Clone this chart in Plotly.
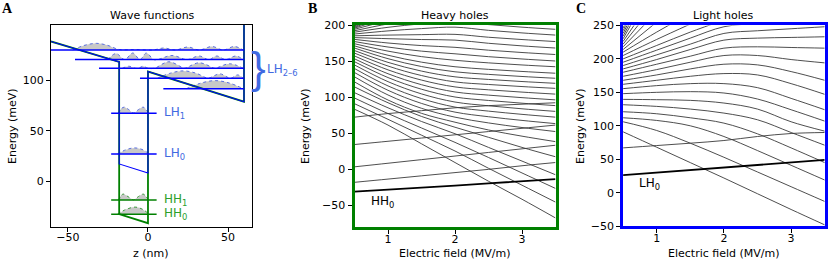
import plotly.graph_objects as go

W, H = 831, 260

# ---------------- Panel A : wave functions ----------------
pot_z = [-60.6, -18, -18, 0, 0, 60, 60]
pot_hh = [139, 118.6, -33, -42, 109, 79, 160]
pot_lh = [139, 118.6, 17, 8, 109, 79, 160]

lev_names = ["HH0", "HH1", "LH0", "LH1", "LH2", "LH3", "LH4", "LH5", "LH6"]
lev_E = [-33, -19, 27, 67.6, 130.5, 121, 112.3, 102.4, 92]
lev_z0 = [-23, -23, -23, -23, -60.6, -45.6, -30.6, -5, 9.6]
lev_z1 = [5.4, 5.4, 5.4, 5.4, 60, 60, 60, 60, 60]

wf_z = [
    [-19, -14, -8, -3, 0.5],
    [-18.5, -17, -15.5, -12.5, -9, -6, -3, -1.5, 0.5],
    [-19, -14, -8.5, -3, 0.5],
    [-18.5, -17, -14.8, -12, -9, -6, -3, -1.5, 0.5],
    [-47, -40, -32, -25, -18, -8, 3, 10, 17, 25, 32, 40, 47, 54, 59.5],
    [-25, -20, -14.5, -9.5, -5, -1, 3.5, 6, 15, 23, 25, 32, 38, 43, 48.5, 55, 59.5],
    [-16, -12, -8, -6, -3, 0, 4, 13, 22, 23, 32, 41, 42, 51, 59.5],
    [6, 14, 22, 30, 37, 38, 45, 51, 52, 56, 59.5],
    [24, 33, 42, 51, 59.5],
]
wf_a = [
    [0, 4.5, 7, 4.5, 0],
    [0, 4, 6, 3.5, 0.3, 3.5, 6, 4, 0],
    [0, 4, 6, 4, 0],
    [0, 4, 6, 3.5, 0.3, 3.5, 6, 4, 0],
    [0, 4.5, 6.6, 4.5, 0.5, 0.5, 0, 2, 0, 3, 0, 3.5, 0, 3.5, 0],
    [0, 6, 0, 6.5, 0, 6.5, 0, 0, 4, 0.3, 0, 3.5, 0, 3.5, 0, 3.5, 0],
    [0, 2, 0, 0, 2, 0, 0, 6.5, 0.3, 0, 5.5, 0.3, 0, 4.5, 0],
    [0, 5, 7.3, 5, 0, 0, 4.3, 0, 0, 3.3, 0],
    [0, 5.5, 8, 5.5, 0],
]

# ---------------- Panel B : heavy holes ----------------
B_x = [0.5, 1.0, 1.5, 2.0, 2.5, 3.0, 3.5]
B_HH0 = [-31.5, -29, -26, -23, -20, -17, -14]
B_bound = [
    [-18.5, -14, -9.5, -5, -0.5, 4.5, 9],
    [3, 8, 13, 18, 23, 28, 33],
    [34, 38.5, 43, 47.5, 52, 56.5, 61],
    [72, 77, 81, 85, 88, 90, 92],
]
B_cont = [
    [83, 61, 35, 9, -17, -42, -68],
    [90.7, 69, 47, 25, 1, -22.5, -46],
    [98.6, 77, 57, 37, 16, -5.5, -27],
    [106, 85, 66, 49, 30, 11, -8],
    [114, 92, 73, 58, 44, 30, 17],
    [121, 95.8, 77.3, 65, 54.2, 45.6, 38],
    [128, 102.8, 84.3, 72, 64, 57.6, 52],
    [134, 109.3, 91.1, 79, 72.6, 67.5, 63],
    [139.5, 115.4, 97.8, 86, 80.4, 75.9, 72],
    [144.5, 121.3, 104.3, 93, 87.8, 83.6, 80],
    [149, 127, 110.8, 100, 95.2, 91.4, 88],
    [153, 132.3, 117.1, 107, 102.6, 99.1, 96],
    [157, 137.7, 123.5, 114, 110, 106.8, 104],
    [161, 143, 129.8, 121, 117.4, 114.5, 112],
    [164.5, 148.1, 136, 128, 124.4, 121.5, 119],
    [168, 153.2, 142.3, 135, 131.4, 128.5, 126],
    [171, 158, 148.4, 142, 138.4, 135.5, 133],
    [174, 163.7, 156.1, 151, 147.4, 144.5, 142],
    [177, 169.4, 163.7, 160, 156, 152.8, 150],
    [180, 175, 171.4, 169, 165, 161.8, 159],
    [182.5, 181, 179.8, 179, 174.6, 171, 168],
    [185, 186, 186.6, 187, 183, 179.8, 177],
    [187.5, 191.8, 195, 197, 192.6, 189, 186],
    [190, 196.8, 201.7, 205, 200.6, 197, 194],
    [192, 201.5, 208.4, 213, 208.6, 205, 202],
    [194, 206, 215, 221],
    [195.5, 210, 221, 229],
    [196.5, 214, 226],
    [197.5, 218, 233],
    [198.5, 223, 240],
    [199.5, 230],
]

# ---------------- Panel C : light holes ----------------
C_x = [0.5, 1.0, 1.5, 2.0, 2.5, 3.0, 3.5]
C_LH0 = [26.4, 30.2, 34, 37.7, 41.5, 45.2, 49]
C_bound = [
    [67, 70.5, 74, 78, 84, 88.5, 90],
]
C_cont = [
    [91, 68, 45, 22, -1.5, -25, -48],
    [106, 93, 74, 53, 31, 9, -13],
    [112, 108, 100, 84, 63, 41, 19],
    [121, 118, 112, 104, 88, 67, 45],
    [131.5, 129, 125, 119, 109, 90, 71],
    [139.5, 139, 138, 134, 125, 106, 92],
    [148, 150, 151, 149, 140, 124, 107],
    [155.5, 160, 163, 163, 157, 141, 124],
    [162, 168, 174, 178, 176, 163, 147],
    [168, 176, 185, 192, 191, 181, 168],
    [174, 184, 195, 205, 205, 199, 194],
    [180, 192, 204, 216, 218, 217, 216],
    [185, 199, 214, 228, 231, 232, 233],
    [190, 206, 222, 238, 242, 245, 248],
    [195, 213, 231, 248, 253, 257, 261],
    [200, 220, 240, 258],
    [205, 229, 252],
    [210, 240, 268],
    [214, 255],
    [218, 270],
    [222, 285],
    [226, 300],
    [230, 320],
    [234, 330],
    [238, 340],
    [242, 350],
    [246, 360],
]

GREEN = "#008000"
BLUE = "#0000ff"
LH_TXT = "#4169e1"
HH_TXT = "#2ca02c"
FONT = "DejaVu Sans"

fig = go.Figure()


def add_line(x, y, xa, ya, **kw):
    fig.add_trace(go.Scatter(x=x, y=y, xaxis=xa, yaxis=ya, mode="lines",
                             hoverinfo="skip", showlegend=False, **kw))


# wave functions (filled)
for name, E, zz, aa in zip(lev_names, lev_E, wf_z, wf_a):
    col = "#3a9a3a" if name.startswith("HH") else "#5a6fe0"
    add_line(zz, [E + v for v in aa], "x", "y", fill="toself",
             fillcolor="#c8c8c8", line=dict(color=col, width=1, dash="dot", shape="spline"))

# potential profiles
add_line(pot_z, pot_hh, "x", "y", line=dict(color=GREEN, width=1.8))
add_line(pot_z, pot_lh, "x", "y", line=dict(color=BLUE, width=1.1))

# levels
for name, E, z0, z1 in zip(lev_names, lev_E, lev_z0, lev_z1):
    col = GREEN if name.startswith("HH") else BLUE
    add_line([z0, z1], [E, E], "x", "y", line=dict(color=col, width=1.5))

# panel B
for ys in B_cont + B_bound:
    add_line(B_x[:len(ys)], ys, "x2", "y2", line=dict(color="#3a3a3a", width=0.9, shape="spline"))
add_line(B_x, B_HH0, "x2", "y2", line=dict(color="black", width=1.8))

# panel C
for ys in C_cont + C_bound:
    add_line(C_x[:len(ys)], ys, "x3", "y3", line=dict(color="#3a3a3a", width=0.9, shape="spline"))
add_line(C_x, C_LH0, "x3", "y3", line=dict(color="black", width=1.8))

tickfont = dict(family=FONT, size=11, color="black")
common = dict(showgrid=False, zeroline=False, ticks="outside", ticklen=4, tickwidth=1,
              tickcolor="black", showline=True, mirror=True, tickfont=tickfont,
              automargin=False)
xcommon = dict(common, ticklabelstandoff=-4)


def px_x(p):
    return p / W


def px_y(p):
    return 1 - p / H


fig.update_layout(
    width=W, height=H, margin=dict(l=0, r=0, t=0, b=0, autoexpand=False),
    paper_bgcolor="white", plot_bgcolor="white", showlegend=False,
    xaxis=dict(domain=[px_x(51), px_x(252)], range=[-60.6, 65], anchor="y",
               tickvals=[-50, 0, 50], ticktext=["\u221250", "0", "50"],
               linecolor="black", linewidth=1, **xcommon),
    yaxis=dict(domain=[px_y(227), px_y(25)], range=[-45.8, 155.4], anchor="x",
               tickvals=[0, 50, 100], ticktext=["0", "50", "100"],
               linecolor="black", linewidth=1, **common),
    xaxis2=dict(domain=[px_x(354.5), px_x(555.5)], range=[0.5, 3.5], anchor="y2",
                tickvals=[1, 2, 3], linecolor=GREEN, linewidth=3, **xcommon),
    yaxis2=dict(domain=[px_y(226.6), px_y(25)], range=[-80, 200], anchor="x2",
                tickvals=[-50, 0, 50, 100, 150, 200],
                ticktext=["\u221250", "0", "50", "100", "150", "200"],
                linecolor=GREEN, linewidth=3, **common),
    xaxis3=dict(domain=[px_x(623.1), px_x(824.7)], range=[0.5, 3.5], anchor="y3",
                tickvals=[1, 2, 3], linecolor=BLUE, linewidth=3, **xcommon),
    yaxis3=dict(domain=[px_y(226.2), px_y(25.4)], range=[-50, 250], anchor="x3",
                tickvals=[-50, 0, 50, 100, 150, 200, 250],
                ticktext=["\u221250", "0", "50", "100", "150", "200", "250"],
                linecolor=BLUE, linewidth=3, **common),
)

ann = []


def pa(text, x, y, size=11, color="black", family=FONT, angle=0, xanchor="center",
       yanchor="middle"):
    ann.append(dict(text=text, x=px_x(x), y=px_y(y), xref="paper", yref="paper",
                    showarrow=False, textangle=angle, xanchor=xanchor, yanchor=yanchor,
                    font=dict(size=size, color=color, family=family)))


# panel letters
pa("<b>A</b>", 0, 8, size=14, family="Liberation Serif", xanchor="left")
pa("<b>B</b>", 306, 8, size=14, family="Liberation Serif", xanchor="left")
pa("<b>C</b>", 574, 8, size=14, family="Liberation Serif", xanchor="left")
# titles
pa("Wave functions", 152, 15)
pa("Heavy holes", 455, 15)
pa("Light holes", 723, 15)
# axis titles
pa("Energy (meV)", 12, 126, angle=-90)
pa("Energy (meV)", 305, 126, angle=-90)
pa("Energy (meV)", 580, 126, angle=-90)
pa("z (nm)", 151, 253)
pa("Electric field (MV/m)", 455, 253)
pa("Electric field (MV/m)", 724, 253)
# brace & group label
pa("}", 258, 68, size=44, color=LH_TXT, family="Liberation Sans")
pa("LH<sub>2\u20136</sub>", 265, 70, size=12, color=LH_TXT, xanchor="left")

fig.update_layout(annotations=ann)

# level labels in panel A
for name, E in zip(lev_names[:4], lev_E[:4]):
    col = HH_TXT if name.startswith("HH") else LH_TXT
    fig.add_annotation(text=name[:2] + "<sub>" + name[2:] + "</sub>", x=8.5, y=E,
                       xref="x", yref="y", showarrow=False, xanchor="left",
                       yanchor="middle", font=dict(size=12, color=col, family=FONT))

fig.add_annotation(text="HH<sub>0</sub>", x=0.72, y=-46, xref="x2", yref="y2",
                   showarrow=False, xanchor="left", yanchor="middle",
                   font=dict(size=12, color="black", family=FONT))
fig.add_annotation(text="LH<sub>0</sub>", x=0.71, y=13, xref="x3", yref="y3",
                   showarrow=False, xanchor="left", yanchor="middle",
                   font=dict(size=12, color="black", family=FONT))

fig.write_html("out.html", config={"displayModeBar": False},
               post_script="document.body.style.margin='0';document.body.style.padding='0';")
